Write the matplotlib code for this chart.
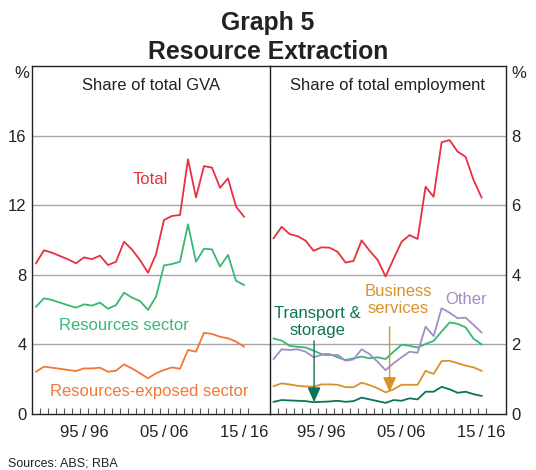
"""Graph 5: Resource Extraction - share of GVA and employment."""

import matplotlib
matplotlib.use('Agg')
import matplotlib.pyplot as plt
import numpy as np

plt.rcParams['font.family'] = ['Liberation Sans', 'DejaVu Sans']

# financial years 1989/90 .. 2015/16
years = np.arange(27)
tick_labels = ['95\u2009/\u200996', '05\u2009/\u200906', '15\u2009/\u200916']
tick_pos = [6, 16, 26]

# Share of total GVA (%)
gva_total = [8.66, 9.41, 9.27, 9.08, 8.89, 8.66, 9.0, 8.9, 9.1, 8.56, 8.75, 9.9, 9.45,
             8.85, 8.12, 9.17, 11.15, 11.38, 11.44, 14.64, 12.45, 14.25, 14.16, 13.0,
             13.54, 11.92, 11.34]
gva_resources = [6.17, 6.65, 6.55, 6.4, 6.25, 6.11, 6.3, 6.23, 6.4, 6.05, 6.26, 6.97, 6.69,
                 6.49, 5.98, 6.74, 8.54, 8.62, 8.75, 10.9, 8.75, 9.5, 9.46, 8.47, 9.14,
                 7.66, 7.41]
gva_exposed = [2.43, 2.72, 2.66, 2.6, 2.53, 2.47, 2.62, 2.62, 2.66, 2.43, 2.49, 2.85, 2.62,
               2.34, 2.05, 2.34, 2.53, 2.68, 2.6, 3.68, 3.58, 4.67, 4.6, 4.44, 4.35, 4.16,
               3.87]

# Share of total employment (%)
emp_total = [5.05, 5.38, 5.17, 5.11, 4.98, 4.69, 4.79, 4.78, 4.66, 4.35, 4.4, 4.99, 4.69,
             4.43, 3.95, 4.46, 4.95, 5.14, 5.03, 6.53, 6.24, 7.81, 7.87, 7.54, 7.39, 6.72,
             6.22]
emp_resources = [2.17, 2.11, 1.96, 1.93, 1.91, 1.82, 1.72, 1.72, 1.63, 1.55, 1.6, 1.65, 1.6,
                 1.63, 1.58, 1.79, 1.99, 1.96, 1.91, 2.01, 2.1, 2.37, 2.63, 2.59, 2.49,
                 2.16, 2.0]
emp_other = [1.58, 1.86, 1.84, 1.86, 1.79, 1.63, 1.7, 1.69, 1.7, 1.53, 1.57, 1.86, 1.72,
             1.5, 1.26, 1.46, 1.63, 1.79, 1.76, 2.51, 2.24, 3.04, 2.91, 2.75, 2.77, 2.56,
             2.34]
emp_business = [0.8, 0.88, 0.85, 0.81, 0.79, 0.79, 0.85, 0.85, 0.84, 0.77, 0.77, 0.9, 0.83,
                0.74, 0.62, 0.71, 0.84, 0.84, 0.84, 1.24, 1.15, 1.52, 1.53, 1.46, 1.39,
                1.34, 1.24]
emp_transport = [0.35, 0.4, 0.39, 0.38, 0.37, 0.34, 0.35, 0.36, 0.38, 0.35, 0.37, 0.47,
                 0.42, 0.37, 0.32, 0.4, 0.38, 0.45, 0.42, 0.64, 0.64, 0.78, 0.71, 0.61,
                 0.64, 0.57, 0.52]

RED = '#E8303F'
GREEN = '#37B873'
ORANGE = '#F37636'
PURPLE = '#A58BC6'
GOLD = '#D9922B'
TEAL = '#0B7358'
GRID = '#A6A6A6'
TXT = '#222222'
FS = 12

fig = plt.figure(figsize=(5.36, 4.70), dpi=100)
ax1 = fig.add_axes([32 / 536, 56 / 470, 238 / 536, 348 / 470])
ax2 = fig.add_axes([270 / 536, 56 / 470, 236 / 536, 348 / 470])

fig.text(0.5, 1 - 30 / 470, 'Graph 5', ha='center', va='baseline',
         fontsize=17.8, fontweight='bold', color=TXT)
fig.text(0.5, 1 - 59 / 470, 'Resource Extraction', ha='center', va='baseline',
         fontsize=17.8, fontweight='bold', color=TXT)
fig.text(8 / 536, 1 - 466 / 470, 'Sources: ABS; RBA', ha='left', va='baseline',
         fontsize=9, color=TXT)

for ax, ymax, step in [(ax1, 20, 4), (ax2, 10, 2)]:
    ax.set_ylim(0, ymax)
    ax.set_yticks(np.arange(0, ymax, step))
    for v in np.arange(step, ymax, step):
        ax.axhline(v, color=GRID, linewidth=1, zorder=1)
    ax.set_xticks(tick_pos)
    ax.set_xticklabels(tick_labels)
    ax.set_xticks(np.arange(27) + 0.5, minor=True)
    ax.tick_params(axis='x', which='major', length=0, pad=8, labelsize=FS,
                   labelcolor=TXT)
    ax.tick_params(axis='x', which='minor', direction='in', length=4, width=0.8,
                   color='#555555')
    ax.tick_params(axis='y', length=0, labelsize=FS, pad=4, labelcolor=TXT)
    for sp in ax.spines.values():
        sp.set_linewidth(1)
        sp.set_color(TXT)

ax1.set_xlim(-0.5, 29.25)
ax2.set_xlim(-0.45, 29.05)
ax2.yaxis.tick_right()
ax1.spines['right'].set_visible(False)

fig.text(22 / 536, 1 - 73 / 470, '%', ha='center', va='center', fontsize=FS, color=TXT)
fig.text(519 / 536, 1 - 73 / 470, '%', ha='center', va='center', fontsize=FS, color=TXT)

# Left panel
ax1.plot(years, gva_total, color=RED, lw=1.3, zorder=3)
ax1.plot(years, gva_resources, color=GREEN, lw=1.3, zorder=3)
ax1.plot(years, gva_exposed, color=ORANGE, lw=1.3, zorder=3)
ax1.text(0.5, 0.943, 'Share of total GVA', transform=ax1.transAxes, ha='center',
         va='center', fontsize=FS, color=TXT)
ax1.text(14.3, 13.5, 'Total', color=RED, ha='center', va='center', fontsize=FS)
ax1.text(11.0, 5.11, 'Resources sector', color=GREEN, ha='center', va='center', fontsize=FS)
ax1.text(14.1, 1.28, 'Resources-exposed sector', color=ORANGE, ha='center', va='center',
         fontsize=FS)

# Right panel
ax2.plot(years, emp_total, color=RED, lw=1.3, zorder=3)
ax2.plot(years, emp_resources, color=GREEN, lw=1.3, zorder=3)
ax2.plot(years, emp_other, color=PURPLE, lw=1.3, zorder=3)
ax2.plot(years, emp_business, color=GOLD, lw=1.3, zorder=3)
ax2.plot(years, emp_transport, color=TEAL, lw=1.3, zorder=3)
ax2.text(0.5, 0.943, 'Share of total employment', transform=ax2.transAxes, ha='center',
         va='center', fontsize=FS, color=TXT)
ax2.text(5.44, 2.65, 'Transport &\nstorage', color=TEAL, ha='center', va='center',
         fontsize=FS, linespacing=1.15)
ax2.text(15.56, 3.28, 'Business\nservices', color=GOLD, ha='center', va='center',
         fontsize=FS, linespacing=1.15)
ax2.text(24.0, 3.3, 'Other', color=PURPLE, ha='center', va='center', fontsize=FS)

arrow = dict(arrowstyle='-|>,head_length=0.9,head_width=0.4', lw=1, shrinkA=0, shrinkB=0)
ax2.annotate('', xy=(5.06, 0.34), xytext=(5.06, 2.1),
             arrowprops=dict(arrow, color=TEAL), zorder=4)
ax2.annotate('', xy=(14.5, 0.63), xytext=(14.5, 2.5),
             arrowprops=dict(arrow, color=GOLD), zorder=4)

fig.savefig('out.png', dpi=100)
